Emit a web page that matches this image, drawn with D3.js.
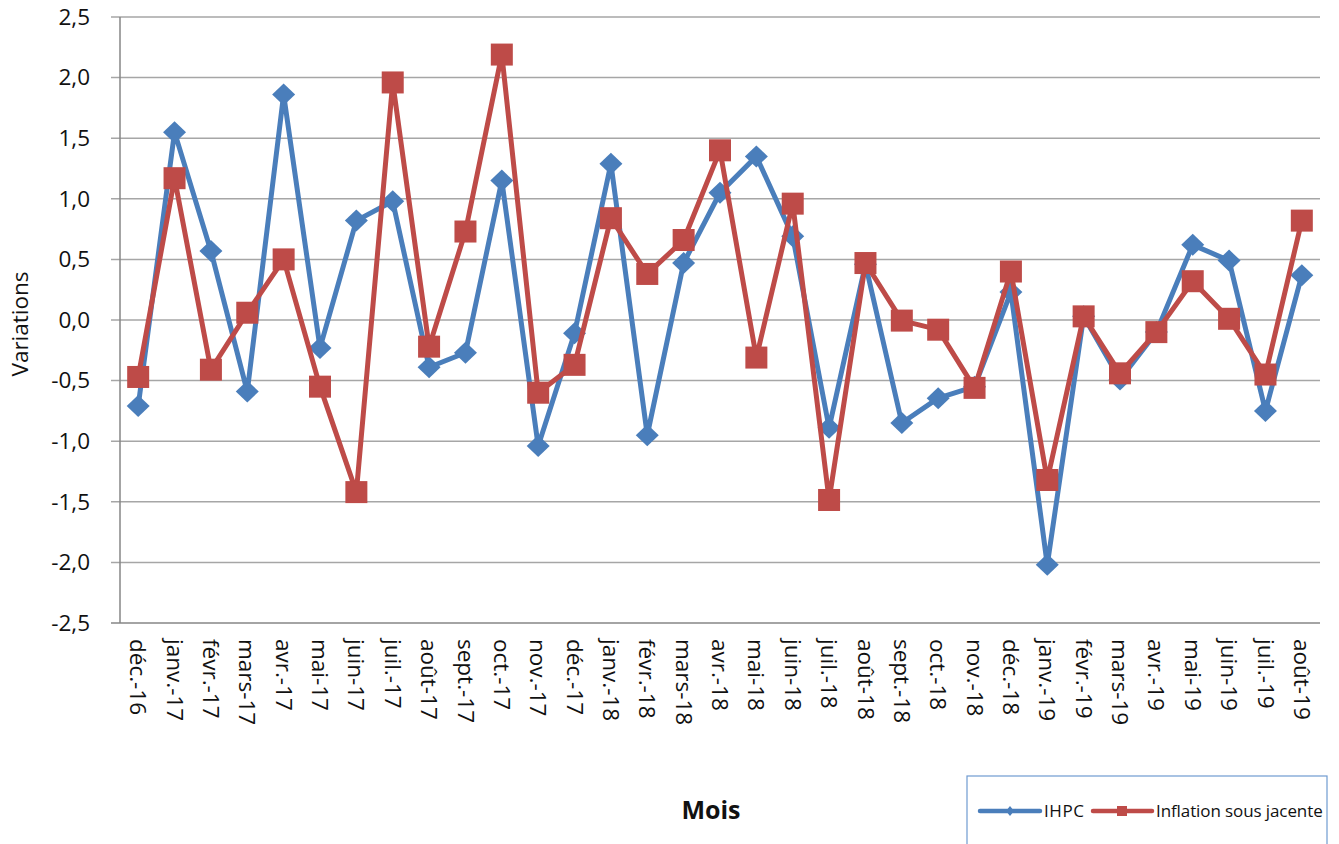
<!DOCTYPE html>
<html>
<head>
<meta charset="utf-8">
<script src="https://cdn.jsdelivr.net/npm/d3@7"></script>
<style>
  html, body { margin: 0; padding: 0; background: #fff; }
  svg { display: block; }
</style>
</head>
<body>
<svg id="chart" width="1339" height="844"></svg>
<script>
const months = ["déc.-16","janv.-17","févr.-17","mars-17","avr.-17","mai-17","juin-17","juil.-17","août-17","sept.-17","oct.-17","nov.-17","déc.-17","janv.-18","févr.-18","mars-18","avr.-18","mai-18","juin-18","juil.-18","août-18","sept.-18","oct.-18","nov.-18","déc.-18","janv.-19","févr.-19","mars-19","avr.-19","mai-19","juin-19","juil.-19","août-19"];
const ihpc = [-0.71,1.55,0.57,-0.59,1.86,-0.23,0.82,0.98,-0.39,-0.27,1.15,-1.04,-0.11,1.29,-0.95,0.47,1.05,1.35,0.69,-0.89,0.46,-0.85,-0.645,-0.55,0.23,-2.02,0.03,-0.49,-0.10,0.62,0.49,-0.75,0.37];
const inflationSJ = [-0.47,1.17,-0.41,0.06,0.50,-0.55,-1.42,1.96,-0.22,0.73,2.19,-0.60,-0.37,0.84,0.38,0.66,1.40,-0.31,0.96,-1.485,0.47,-0.005,-0.08,-0.56,0.40,-1.32,0.03,-0.44,-0.10,0.32,0.01,-0.45,0.82];
const yTicks = [-2.5,-2.0,-1.5,-1.0,-0.5,0.0,0.5,1.0,1.5,2.0,2.5];
const seriesNames = ["IHPC","Inflation sous jacente"];
const yTitle = "Variations";
const xTitle = "Mois";

(function () {
const BLUE = "#4A7EBB", RED = "#BE4B48", GRID = "#a6a6a6", AXIS = "#868686";
const FONT = "'Open Sans', sans-serif";
const TXT = "#111";

const svg = d3.select("#chart");
const pL = 120, pR = 1320, pT = 17, pB = 623;

const x = d3.scalePoint().domain(months).range([pL, pR]).padding(0.5);
const y = d3.scaleLinear().domain([-2.5, 2.5]).range([pB, pT]);
const fmt = v => d3.format(".1f")(v).replace(".", ",").replace("−", "-");

// gridlines
svg.append("g").selectAll("line").data(yTicks).join("line")
  .attr("x1", pL - 9).attr("x2", pR)
  .attr("y1", d => y(d)).attr("y2", d => y(d))
  .attr("stroke", d => d === -2.5 ? AXIS : GRID).attr("stroke-width", 1.5);

// vertical axis
svg.append("line").attr("x1", pL).attr("x2", pL).attr("y1", y(2.5)).attr("y2", y(-2.5))
  .attr("stroke", AXIS).attr("stroke-width", 1.5);

// y tick labels
svg.append("g").selectAll("text").data(yTicks).join("text")
  .attr("x", 90).attr("y", d => y(d)).attr("dy", "0.35em")
  .attr("text-anchor", "end").attr("font-family", FONT).attr("font-size", 22.5)
  .attr("fill", TXT).text(fmt);

// x tick labels rotated
svg.append("g").selectAll("text").data(months).join("text")
  .attr("transform", d => `translate(${x(d)},${pB + 16}) rotate(90)`)
  .attr("dy", "0.35em").attr("text-anchor", "start")
  .attr("font-family", FONT).attr("font-size", 22.5).attr("fill", TXT).text(d => d);

// axis titles
svg.append("text").attr("transform", `translate(28,${(pT + pB) / 2 + 4}) rotate(-90)`)
  .attr("text-anchor", "middle").attr("font-family", FONT).attr("font-size", 22.5)
  .attr("fill", TXT).text(yTitle);
svg.append("text").attr("x", 711).attr("y", 819).attr("text-anchor", "middle")
  .attr("font-family", FONT).attr("font-size", 25).attr("font-weight", "bold")
  .attr("fill", TXT).text(xTitle);

const diamond = (cx, cy, w, h) => `M${cx},${cy - h}L${cx + w},${cy}L${cx},${cy + h}L${cx - w},${cy}Z`;

function drawSeries(vals, color, marker) {
  const line = d3.line().x((d, i) => x(months[i])).y(d => y(d));
  svg.append("path").datum(vals).attr("d", line).attr("fill", "none")
    .attr("stroke", color).attr("stroke-width", 5).attr("stroke-linejoin", "round");
  const g = svg.append("g");
  if (marker === "diamond") {
    g.selectAll("path").data(vals).join("path")
      .attr("d", (d, i) => diamond(x(months[i]), y(d), 11.5, 11)).attr("fill", color);
  } else {
    g.selectAll("rect").data(vals).join("rect")
      .attr("x", (d, i) => x(months[i]) - 11).attr("y", d => y(d) - 11)
      .attr("width", 22).attr("height", 22).attr("fill", color);
  }
}
drawSeries(ihpc, BLUE, "diamond");
drawSeries(inflationSJ, RED, "square");

// legend
const lg = svg.append("g");
lg.append("rect").attr("x", 967).attr("y", 776).attr("width", 360).attr("height", 100)
  .attr("fill", "#fff").attr("stroke", "#6f9bd1").attr("stroke-width", 1.2);
const ly = 811;
lg.append("line").attr("x1", 980).attr("x2", 1040).attr("y1", ly).attr("y2", ly)
  .attr("stroke", BLUE).attr("stroke-width", 4.5).attr("stroke-linecap", "round");
lg.append("path").attr("d", diamond(1010, ly, 4, 5)).attr("fill", BLUE);
lg.append("text").attr("x", 1044).attr("y", ly).attr("dy", "0.35em")
  .attr("font-family", FONT).attr("font-size", 17).attr("fill", TXT).attr("letter-spacing", 0.6).text(seriesNames[0]);
lg.append("line").attr("x1", 1093).attr("x2", 1152).attr("y1", ly).attr("y2", ly)
  .attr("stroke", RED).attr("stroke-width", 4.5).attr("stroke-linecap", "round");
lg.append("rect").attr("x", 1117).attr("y", ly - 5).attr("width", 10).attr("height", 10).attr("fill", RED);
lg.append("text").attr("x", 1156).attr("y", ly).attr("dy", "0.35em")
  .attr("font-family", FONT).attr("font-size", 17).attr("fill", TXT).attr("letter-spacing", -0.1).text(seriesNames[1]);
})();
</script>
</body>
</html>
